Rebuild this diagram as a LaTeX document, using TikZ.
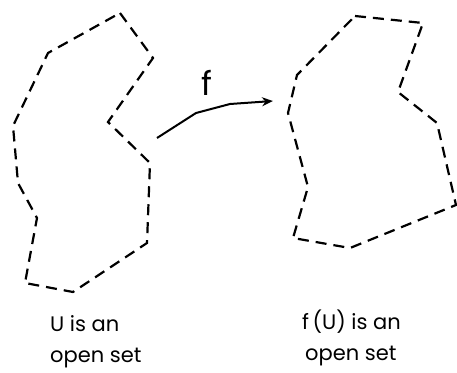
\documentclass[tikz,border=0pt]{standalone}
\usepackage{fontspec}
\setmainfont{Poppins}
\usetikzlibrary{arrows.meta}

\begin{document}
\begin{tikzpicture}[
    x = 1pt, y = -1pt,
    > = {Stealth[length=11pt, width=9pt]},
    region/.style={draw, line width=2.2pt, dash pattern=on 11pt off 7pt},
    caption/.style={align=left, anchor=base west, inner sep=0pt,
        font=\fontsize{21}{31}\selectfont},
    maplabel/.style={inner sep=0pt, anchor=base, font=\fontsize{33}{36}\selectfont}
]
    \useasboundingbox (0,0) rectangle (457,372);

    % the open set U
    \draw[region] (120,13) -- (153,58) -- (108,122) -- (150,163) -- (147,243)
        -- (73,292) -- (25,283) -- (37,218) -- (18,183) -- (13,126) -- (48,53) -- cycle;

    % its image f(U)
    \draw[region] (355,16) -- (423,23) -- (398,92) -- (437,123) -- (456,205)
        -- (350,248) -- (293,238) -- (308,187) -- (288,113) -- (297,75) -- cycle;

    % the map f
    \coordinate (from) at (157,138);
    \coordinate (to) at (273,101);
    \draw[->, line width=2pt] (from) -- (196,113) -- (230,104) -- (to);
    \node[maplabel] (f) at (207,95) {f};

    % base of a two-line node is its last line
    \node[caption] (capU) at (50,362) {U is an\\open set};
    \node[caption] (capfU) at (302,360) {f\,(U) is an\\\hspace{3pt}open set};
\end{tikzpicture}
\end{document}
